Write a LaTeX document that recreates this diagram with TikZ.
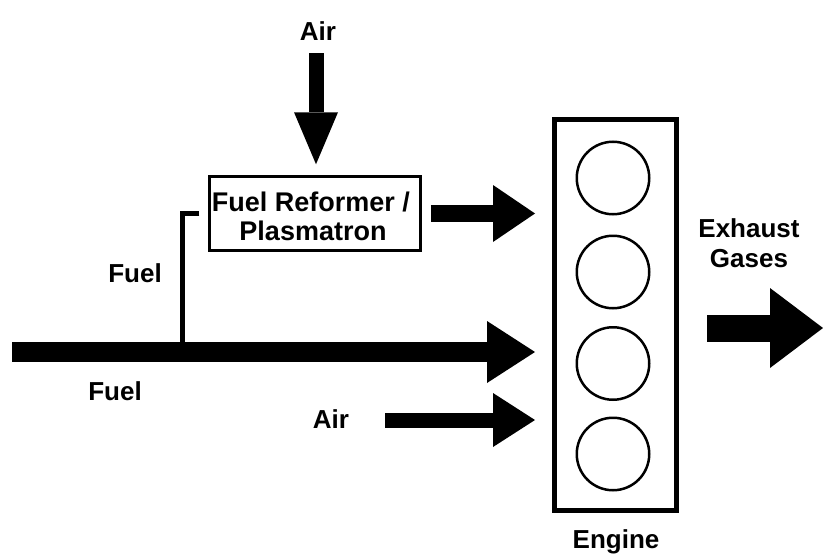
\documentclass[tikz,border=0pt]{standalone}
\usepackage{fontspec}
\setmainfont{Liberation Sans}
\usetikzlibrary{arrows.meta}
\begin{document}
\begin{tikzpicture}[x=1pt,y=-1pt,
  lbl/.style={font=\fontsize{26}{32}\selectfont\bfseries, inner sep=0pt, anchor=base, text=black},
  boxlbl/.style={lbl, font=\fontsize{27}{29}\selectfont\bfseries},
  fatarrow/.style args={#1/#2/#3}{draw=black, line width=#1pt, line cap=butt,
    -{Triangle[width=#2pt,length=#3pt,line width=0pt]}},
  cyl/.style={draw, circle, line width=2.5pt, minimum size=72.5pt, inner sep=0pt},
  pipe/.style={draw, line width=5pt, line cap=butt, line join=miter}]
\fill[white] (0,0) rectangle (823,554);
\useasboundingbox (0,0) rectangle (823,554);

% nodes
\node[draw, line width=2.5pt, minimum width=211pt, minimum height=74pt, inner sep=0pt] (box) at (315,213.5) {};
\node[boxlbl] (box1) at (311,211.5) {Fuel Reformer /};
\node[boxlbl] (box2) at (313,240.5) {Plasmatron};
\node[draw, line width=5pt, minimum width=122pt, minimum height=391pt, inner sep=0pt] (engine) at (615.5,315) {};
\node[cyl] (c1) at (613,178) {};
\node[cyl] (c2) at (613,272) {};
\node[cyl] (c3) at (613,363.5) {};
\node[cyl] (c4) at (613,454) {};

% labels
\node[lbl] (airtoplbl) at (318,40) {Air};
\node[lbl] (fuelup) at (135,282) {Fuel};
\node[lbl] (fuellow) at (115,400) {Fuel};
\node[lbl] (airlow) at (331,428) {Air};
\node[lbl] (exh1) at (749,237) {Exhaust};
\node[lbl] (exh2) at (749,267) {Gases};
\node[lbl] (englbl) at (616,548) {Engine};

% coordinates
\coordinate (airtop) at (316,53);
\coordinate (fuelstart) at (12,352);
\coordinate (airstart) at (385,420);
\coordinate (exend) at (823,328);
\coordinate (fj) at (182.5,352);

% connectors
\draw[pipe] ([xshift=-9pt]box.west) -| (fj);
\draw[fatarrow=15/44/52, shorten >=11pt] (airtop) -- (airtop |- box.north);
\draw[fatarrow=17/57/42, shorten <=9pt, shorten >=17pt] (box.east) -- (box.east -| engine.west);
\draw[fatarrow=20/62/48, shorten >=17pt] (fuelstart) -- (fuelstart -| engine.west);
\draw[fatarrow=15/54/42, shorten >=17pt] (airstart) -- (airstart -| engine.west);
\draw[fatarrow=27/80/53, shorten <=28pt] (engine.east |- exend) -- (exend);
\end{tikzpicture}
\end{document}
